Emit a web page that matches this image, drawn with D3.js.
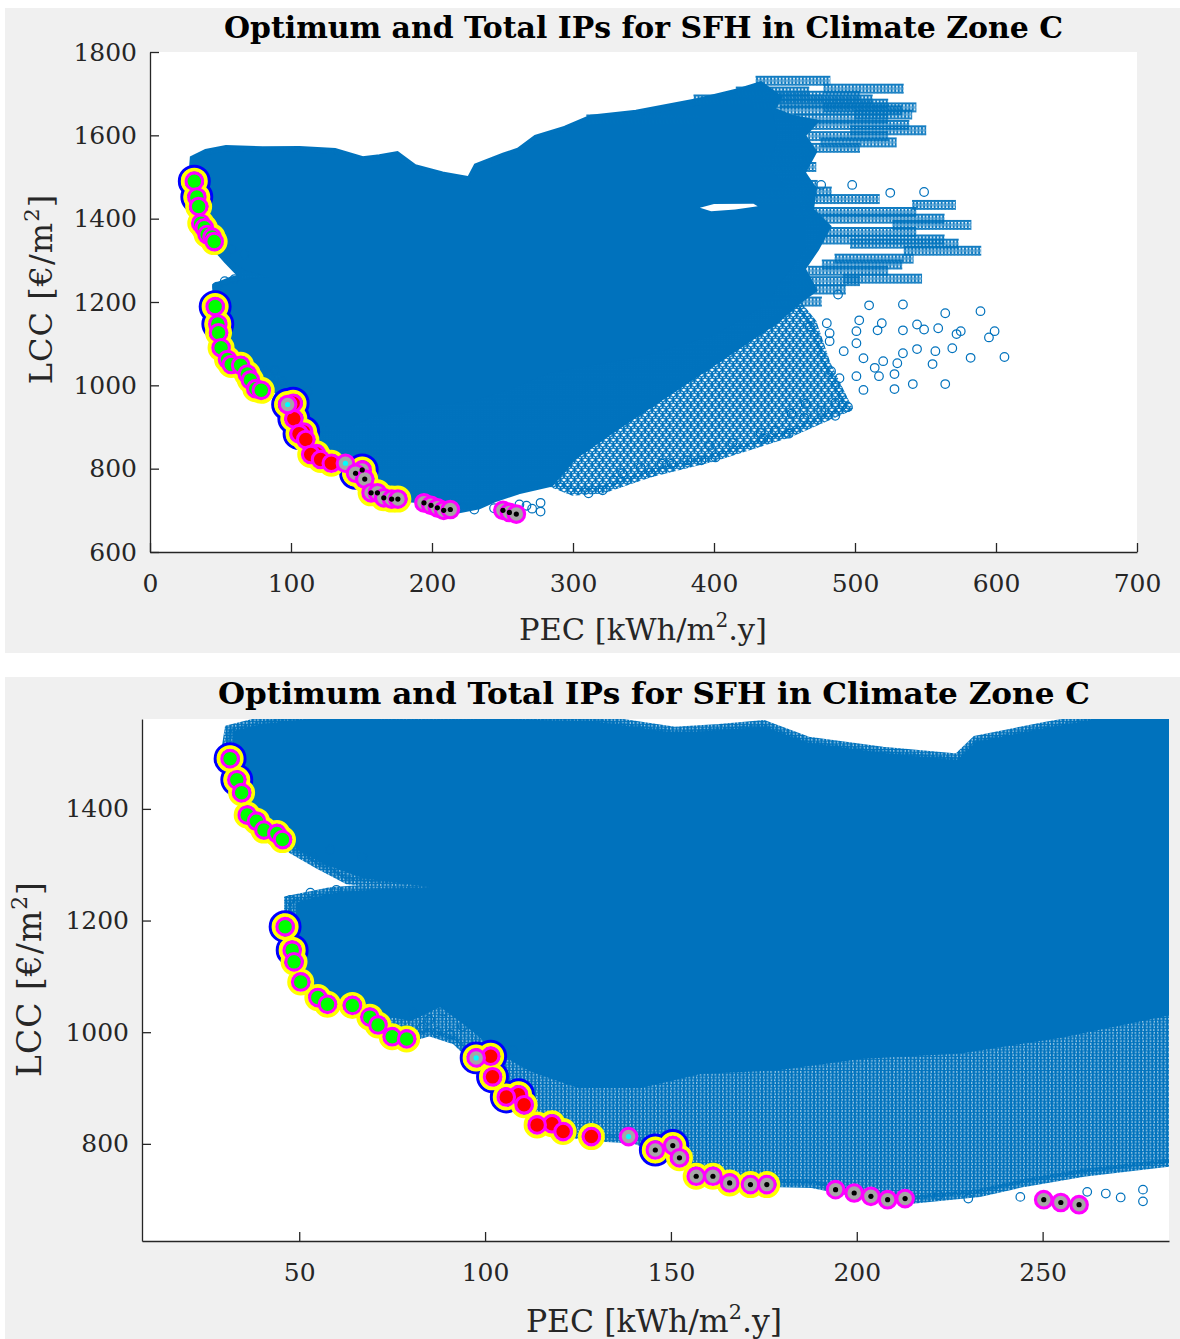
<!DOCTYPE html>
<html>
<head>
<meta charset="utf-8">
<script src="https://cdn.jsdelivr.net/npm/d3@7"></script>
<style>
  body { margin: 0; background: #fff; }
  text { font-family: "DejaVu Serif", serif; fill: #262626; }
</style>
</head>
<body>
<div id="chart"></div>
<script>
const chartTitle = "Optimum and Total IPs for SFH in Climate Zone C";

const xTicksTop = [0, 100, 200, 300, 400, 500, 600, 700];
const yTicksTop = [600, 800, 1000, 1200, 1400, 1600, 1800];
const xTicksZoom = [50, 100, 150, 200, 250];
const yTicksZoom = [800, 1000, 1200, 1400];

// cloud of all IPs, read off the picture as envelopes [PEC, LCC]
// solid part of the cloud
const denseZone = [
  [32,1490],[32,1538],[40,1552],[54,1562],[80,1560],[106,1561],[131,1555],[151,1536],[163,1541],
  [175,1547],[187,1518],[207,1500],[227,1487],[232,1520],[251,1545],[262,1558],[274,1588],[295,1610],
  [313,1634],[345,1646],[389,1672],[419,1692],[440,1680],[445,1600],[440,1520],[450,1480],[460,1440],
  [465,1400],[465,1330],[455,1280],[445,1240],[440,1200],[420,1160],[400,1120],[350,1070],[284,1030],
  [255,990],[228,962],[201,952],[179,932],[158,925],[142,900],[125,900],[112,930],[104,960],[95,1010],
  [88,1045],[80,1020],[72,1030],[64,1055],[56,1065],[52,1085],[50,1120],[49,1160],[49,1200],[49,1232],
  [58,1248],[67,1254],[85,1260],[67,1276],[57,1300],[50,1325],[47,1345],[42,1362],[38,1388],[36,1425],
  [34,1455]
];
// outer envelope of the cloud, less packed near its rim
const mediumZone = [
  [30,1500],[31,1543],[40,1558],[54,1567],[80,1564],[106,1565],[131,1560],[151,1540],[163,1545],
  [175,1552],[187,1522],[207,1504],[227,1492],[232,1524],[251,1549],[262,1562],[274,1592],[295,1614],
  [313,1640],[345,1652],[389,1680],[419,1705],[433,1720],[445,1690],[440,1660],[455,1640],[470,1630],
  [462,1600],[470,1560],[462,1510],[470,1470],[468,1420],[480,1380],[472,1330],[462,1280],[470,1230],
  [458,1200],[445,1160],[410,1080],[370,990],[330,900],[300,830],[284,766],[261,748],[245,730],
  [233,712],[215,700],[200,712],[188,728],[176,730],[166,732],[158,742],[154,770],[148,788],[140,808],
  [129,812],[121,820],[114,832],[110,865],[106,882],[102,917],[97,952],[92,985],[85,1000],[80,990],
  [74,1005],[70,1020],[64,1045],[58,1050],[52,1075],[49,1110],[48,1150],[47,1190],[47,1237],[58,1252],
  [67,1257],[82,1262],[63,1272],[55,1300],[48,1327],[45,1345],[40,1362],[36,1389],[34,1429],[32,1455]
];
// looser band along the lower right rim
const sparseZone = [
  [284,766],[300,745],[321,750],[354,788],[400,827],[453,884],[495,946],[480,1050],[470,1150],
  [458,1200],[445,1160],[410,1080],[370,990],[330,900],[300,830]
];
// empty pocket inside the cloud
const cloudHole = [[390,1426],[400,1435],[428,1436],[431,1430],[415,1422],[398,1418]];

// rows of IPs sticking out on the right: [LCC, PEC from, PEC to]
const ipRows = [
  [1731,433,479],[1712,481,531],[1705,419,464],[1695,440,500],[1686,389,509],[1676,430,520],
  [1667,481,540],[1660,450,530],[1650,503,537],[1640,460,520],[1638,313,387],[1625,470,535],
  [1612,500,547],[1598,470,520],[1583,479,526],[1570,450,500],[1547,438,465],[1524,435,469],
  [1481,452,470],[1465,440,480],[1447,433,514],[1433,544,568],[1416,460,540],[1400,470,560],
  [1385,530,579],[1368,480,540],[1350,480,560],[1340,500,570],[1323,538,586],[1304,489,538],
  [1290,480,530],[1275,470,520],[1256,495,544],[1250,460,500],[1230,450,490],[1201,435,473]
];

// single IPs away from the cloud [PEC, LCC]
const ipOutliers = [
  [510,1192],[534,1194],[564,1173],[589,1178],[599,1130],[595,1115],[606,1068],[582,1066],[564,1003],
  [541,1003],[528,991],[506,989],[495,948],[486,927],[486,958],[476,939],[465,956],[464,922],[455,932],
  [453,884],[435,872],[443,891],[433,886],[413,862],[401,827],[397,855],[391,820],[381,820],[370,812],
  [363,812],[355,791],[348,803],[335,789],[329,772],[321,748],[311,741],
  [559,1137],[544,1146],[549,1134],[534,1132],[519,1149],[516,1132],[501,1130],[503,1156],[480,1149],
  [468,1141],[482,1125],[572,1123],[575,1130],[569,1089],[555,1051],[544,1087],[557,1082],[534,1077],
  [530,1053],[528,1027],[520,1058],[517,1022],[514,1042],[506,1065],[501,1022],[501,1101],[492,1082],
  [489,1017],[483,1034],[482,1106],
  [476,1481],[498,1481],[525,1462],[549,1464],[488,1218],
  [262,714],[267,711],[271,704],[277,697],[277,718],[244,705],[230,702],[222,708],
  [83,1008],[87,1000],[90.6,996],[94,1010],[85,1022],[80.6,1035],[88.7,1037],[107.5,968],[112,986],
  [53.8,1314],[58.3,1327],[67,1314],[47.6,1237],[53,1250],[60,1255]
];

// optimum IPs: [PEC, LCC, blue ring, yellow ring, face, centre dot]
const optimumIPs = [
  [31.4,1490,1,1,"g",""],[33.2,1452,1,1,"g",""],[34.5,1429,0,1,"g",""],[36,1389,0,1,"g",""],
  [38.5,1378,0,1,"g",""],[40.5,1362,0,1,"g",""],[44,1356,0,1,"g",""],[45.5,1345,0,1,"g",""],
  [46.2,1189,1,1,"g",""],[48.1,1147,1,1,"g",""],[48.6,1126,0,1,"g",""],[50.4,1090,0,1,"g",""],
  [55,1062,0,1,"g",""],[57.6,1050,0,1,"g",""],[64.3,1048,0,1,"g",""],[69,1027,0,1,"g",""],
  [71.2,1013,0,1,"g",""],[75,992,0,1,"g",""],[78.9,988,0,1,"g",""],
  [101.5,957,1,1,"r",""],[109,888,1,1,"r",""],[102,920,1,1,"r",""],[105.7,884,1,1,"r",""],
  [110.5,870,0,1,"r",""],[118,836,0,1,"r",""],[114,834,0,1,"r",""],[121,822,0,1,"r",""],
  [128.6,813,0,1,"r",""],
  [97.6,954,1,1,"s","c"],[138.6,813,0,0,"s","c"],
  [150.5,797,1,1,"s","k"],[145.8,789,1,1,"s","k"],[152.3,775,0,1,"s","k"],[156.8,742,0,1,"s","k"],
  [161.3,742,0,1,"s","k"],[165.8,730,0,1,"s","k"],[171.4,727,0,1,"s","k"],[175.8,727,0,1,"s","k"],
  [194.3,718,0,0,"s","k"],[199.3,712,0,0,"s","k"],[203.8,706,0,0,"s","k"],[208.3,700,0,0,"s","k"],
  [213,702,0,0,"s","k"],[250.3,700,0,0,"s","k"],[254.9,695,0,0,"s","k"],[259.8,691,0,0,"s","k"]
];

const blue = "#0072bd";
const faceColor = { g: "#00ff00", r: "#ff0000", s: "#a6a6a6" };
const dotColor = { k: "#000000", c: "#00ffff" };

const panels = [
  { bg: [5, 8, 1175, 645], xr: [150, 1137], yr: [552, 52], xd: [0, 700], yd: [600, 1800],
    xt: xTicksTop, yt: yTicksTop, title: [643.5, 38, 839], xl: [643, 640], yl: [52, 289],
    xls: 30.5, yls: 32 },
  { bg: [5, 677, 1175, 662], xr: [142, 1169], yr: [1241, 719], xd: [7.7, 284], yd: [626, 1561],
    xt: xTicksZoom, yt: yTicksZoom, title: [654, 704, 872], xl: [654, 1332], yl: [41, 979],
    xls: 31.5, yls: 33 }
];

const svg = d3.select("#chart").append("svg")
    .attr("width", 1180)
    .attr("height", 1339);
const defs = svg.append("defs");

// tiled open circles, tile size given in data units so both zoom levels agree
function ringPattern(id, tw, th) {
  const p = defs.append("pattern")
      .attr("id", id)
      .attr("patternUnits", "userSpaceOnUse")
      .attr("width", tw)
      .attr("height", th);
  const n = Math.ceil(6 / Math.min(tw, th)) + 1;
  const pts = [];
  for (let i = -n; i <= n + 1; i++) {
    for (let j = -n; j <= n + 1; j++) {
      pts.push([i * tw, j * th]);
      pts.push([(i + 0.5) * tw, (j + 0.5) * th]);
    }
  }
  p.selectAll("circle").data(pts).join("circle")
      .attr("cx", d => d[0]).attr("cy", d => d[1]).attr("r", 4.3)
      .attr("fill", "none").attr("stroke", blue).attr("stroke-width", 1.3);
}

function rowPattern(id, tw) {
  const p = defs.append("pattern")
      .attr("id", id)
      .attr("patternUnits", "userSpaceOnUse")
      .attr("x", 0).attr("y", -6)
      .attr("width", tw).attr("height", 12);
  const pts = d3.range(-3, 5).map(k => k * tw);
  p.selectAll("circle").data(pts).join("circle")
      .attr("cx", d => d).attr("cy", 6).attr("r", 4.4)
      .attr("fill", "none").attr("stroke", blue).attr("stroke-width", 1.2);
}

function unitLabel(sel, main, tail, size) {
  sel.style("font-size", size + "px");
  sel.append("tspan").text(main);
  sel.append("tspan").attr("dy", -0.42 * size).style("font-size", (0.66 * size) + "px").text("2");
  sel.append("tspan").attr("dy", 0.42 * size).text(tail);
}

panels.forEach(function(p, i) {
  svg.append("rect")
      .attr("x", p.bg[0]).attr("y", p.bg[1])
      .attr("width", p.bg[2]).attr("height", p.bg[3])
      .attr("fill", "#f0f0f0");
  svg.append("rect")
      .attr("x", p.xr[0]).attr("y", p.yr[1])
      .attr("width", p.xr[1] - p.xr[0]).attr("height", p.yr[0] - p.yr[1])
      .attr("fill", "#fff");

  const x = d3.scaleLinear().domain(p.xd).range(p.xr);
  const y = d3.scaleLinear().domain(p.yd).range(p.yr);

  defs.append("clipPath").attr("id", "clip" + i)
    .append("rect")
      .attr("x", p.xr[0]).attr("y", p.yr[1])
      .attr("width", p.xr[1] - p.xr[0]).attr("height", p.yr[0] - p.yr[1]);

  ringPattern("medium" + i, x(2) - x(0), y(0) - y(10));
  ringPattern("sparse" + i, x(5) - x(0), y(0) - y(24));
  rowPattern("row" + i, x(2.5) - x(0));

  const g = svg.append("g").attr("clip-path", `url(#clip${i})`);
  const zone = d3.line().x(d => x(d[0])).y(d => y(d[1])).curve(d3.curveLinearClosed);

  g.append("path").attr("d", zone(sparseZone))
      .attr("fill", `url(#sparse${i})`)
      .attr("stroke", `url(#sparse${i})`).attr("stroke-width", 8);
  g.append("path").attr("d", zone(mediumZone))
      .attr("fill", `url(#medium${i})`)
      .attr("stroke", `url(#medium${i})`).attr("stroke-width", 8);
  g.append("path").attr("d", zone(denseZone)).attr("fill", blue);
  g.append("path").attr("d", zone(cloudHole)).attr("fill", "#fff");

  g.selectAll(".row").data(ipRows).join("g")
      .attr("class", "row")
      .attr("transform", d => `translate(${x(d[1])},${y(d[0])})`)
    .append("rect")
      .attr("x", -5).attr("y", -5.6)
      .attr("width", d => x(d[2]) - x(d[1]) + 10).attr("height", 11.2)
      .attr("fill", `url(#row${i})`);

  g.selectAll(".ip").data(ipOutliers).join("circle")
      .attr("class", "ip")
      .attr("cx", d => x(d[0])).attr("cy", d => y(d[1])).attr("r", 4.3)
      .attr("fill", "none").attr("stroke", blue).attr("stroke-width", 1.2);

  // optimum markers, one layer at a time like stacked plot calls
  g.selectAll(".ringB").data(optimumIPs.filter(d => d[2])).join("circle")
      .attr("class", "ringB")
      .attr("cx", d => x(d[0])).attr("cy", d => y(d[1])).attr("r", 14.8)
      .attr("fill", "none").attr("stroke", "#0000ff").attr("stroke-width", 3.3);
  g.selectAll(".ringY").data(optimumIPs.filter(d => d[3])).join("circle")
      .attr("class", "ringY")
      .attr("cx", d => x(d[0])).attr("cy", d => y(d[1])).attr("r", 11.6)
      .attr("fill", "none").attr("stroke", "#ffff00").attr("stroke-width", 3.8);
  g.selectAll(".face").data(optimumIPs).join("circle")
      .attr("class", "face")
      .attr("cx", d => x(d[0])).attr("cy", d => y(d[1])).attr("r", 8.3)
      .attr("fill", d => faceColor[d[4]]).attr("stroke", "#ff00ff").attr("stroke-width", 3.1);
  g.selectAll(".dot").data(optimumIPs.filter(d => d[5])).join("circle")
      .attr("class", "dot")
      .attr("cx", d => x(d[0])).attr("cy", d => y(d[1])).attr("r", 2.6)
      .attr("fill", d => dotColor[d[5]]);

  // axes, ticks inside as in MATLAB
  const xAxis = svg.append("g")
      .attr("transform", `translate(0,${p.yr[0]})`)
      .call(d3.axisBottom(x).tickValues(p.xt).tickFormat(d3.format("d"))
        .tickSize(-9).tickSizeOuter(0).tickPadding(22));
  const yAxis = svg.append("g")
      .attr("transform", `translate(${p.xr[0]},0)`)
      .call(d3.axisLeft(y).tickValues(p.yt).tickFormat(d3.format("d"))
        .tickSize(-9).tickSizeOuter(0).tickPadding(13));
  [xAxis, yAxis].forEach(a => {
    a.selectAll("path, line").attr("stroke", "#262626").attr("stroke-width", 1.3);
    a.selectAll("text").style("font-family", "DejaVu Serif").style("font-size", "25px").attr("fill", "#262626");
  });

  svg.append("text")
      .attr("x", p.title[0]).attr("y", p.title[1])
      .attr("text-anchor", "middle")
      .attr("textLength", p.title[2]).attr("lengthAdjust", "spacingAndGlyphs")
      .style("font-size", "30px").style("font-weight", "bold").style("fill", "#000")
      .text(chartTitle);

  const xl = svg.append("text")
      .attr("x", p.xl[0]).attr("y", p.xl[1])
      .attr("text-anchor", "middle");
  unitLabel(xl, "PEC [kWh/m", ".y]", p.xls);

  const yl = svg.append("text")
      .attr("transform", `translate(${p.yl[0]},${p.yl[1]}) rotate(-90)`)
      .attr("text-anchor", "middle")
      .style("letter-spacing", "1px");
  unitLabel(yl, "LCC [€/m", "]", p.yls);
});
</script>
</body>
</html>
